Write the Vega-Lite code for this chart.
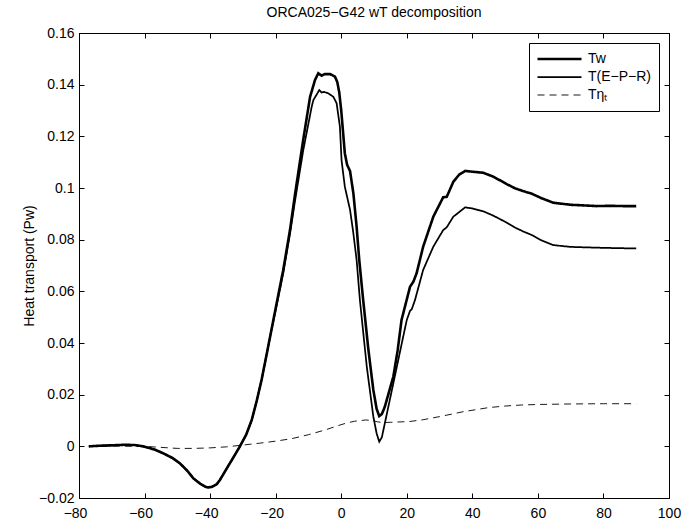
{
  "$schema": "https://vega.github.io/schema/vega-lite/v6.json",
  "width": 590,
  "height": 465,
  "autosize": {"type": "none"},
  "padding": {"left": 79, "top": 33, "right": 14, "bottom": 27},
  "background": "white",
  "title": {"text": "ORCA025−G42 wT decomposition", "font": "Liberation Sans", "fontSize": 14, "fontWeight": "normal", "color": "black", "offset": 6, "anchor": "middle"},
  "config": {
    "view": {"stroke": "black", "strokeWidth": 1},
    "axis": {"grid": false, "domainColor": "black", "domainWidth": 1, "tickColor": "black", "tickWidth": 1, "tickSize": -5, "labelFont": "Liberation Sans", "labelFontSize": 14, "labelColor": "black", "titleFont": "Liberation Sans", "titleFontSize": 14, "titleFontWeight": "normal", "titleColor": "black"},
    "legend": {"labelFont": "Liberation Sans", "labelFontSize": 14, "labelColor": "black"}
  },
  "data": {"values": [
    {"s":"Tw","x":-77,"y":0.0},{"s":"Tw","x":-74,"y":0.0002},{"s":"Tw","x":-70,"y":0.0004},{"s":"Tw","x":-66,"y":0.0006},{"s":"Tw","x":-63,"y":0.0005},{"s":"Tw","x":-60.5,"y":0.0},{"s":"Tw","x":-57,"y":-0.0012},{"s":"Tw","x":-54.3,"y":-0.0027},{"s":"Tw","x":-51.5,"y":-0.0045},{"s":"Tw","x":-49.2,"y":-0.0066},{"s":"Tw","x":-47,"y":-0.0094},{"s":"Tw","x":-45.1,"y":-0.0124},{"s":"Tw","x":-43,"y":-0.0145},{"s":"Tw","x":-41.5,"y":-0.0156},{"s":"Tw","x":-40.6,"y":-0.0159},{"s":"Tw","x":-39.5,"y":-0.0157},{"s":"Tw","x":-38,"y":-0.0147},{"s":"Tw","x":-37,"y":-0.013},{"s":"Tw","x":-35.5,"y":-0.0098},{"s":"Tw","x":-34.9,"y":-0.0085},{"s":"Tw","x":-33,"y":-0.0045},{"s":"Tw","x":-30.9,"y":0.0},{"s":"Tw","x":-29,"y":0.0045},{"s":"Tw","x":-27.3,"y":0.0102},{"s":"Tw","x":-25.8,"y":0.0175},{"s":"Tw","x":-24.3,"y":0.0257},{"s":"Tw","x":-23,"y":0.034},{"s":"Tw","x":-21.7,"y":0.0424},{"s":"Tw","x":-19.7,"y":0.0554},{"s":"Tw","x":-17.7,"y":0.0682},{"s":"Tw","x":-15.6,"y":0.084},{"s":"Tw","x":-14.1,"y":0.0975},{"s":"Tw","x":-11.6,"y":0.1186},{"s":"Tw","x":-9.5,"y":0.1353},{"s":"Tw","x":-8.0,"y":0.1418},{"s":"Tw","x":-7.0,"y":0.1444},{"s":"Tw","x":-6.0,"y":0.1435},{"s":"Tw","x":-5.0,"y":0.1441},{"s":"Tw","x":-3.4,"y":0.1441},{"s":"Tw","x":-1.9,"y":0.1431},{"s":"Tw","x":-1.2,"y":0.141},{"s":"Tw","x":-0.6,"y":0.137},{"s":"Tw","x":0.0,"y":0.130},{"s":"Tw","x":0.6,"y":0.121},{"s":"Tw","x":1.1,"y":0.1134},{"s":"Tw","x":1.8,"y":0.109},{"s":"Tw","x":2.7,"y":0.1065},{"s":"Tw","x":3.7,"y":0.098},{"s":"Tw","x":4.7,"y":0.085},{"s":"Tw","x":5.5,"y":0.0721},{"s":"Tw","x":6.7,"y":0.0566},{"s":"Tw","x":8.3,"y":0.0373},{"s":"Tw","x":9.8,"y":0.0218},{"s":"Tw","x":10.8,"y":0.0145},{"s":"Tw","x":11.6,"y":0.0117},{"s":"Tw","x":12.4,"y":0.0125},{"s":"Tw","x":13.3,"y":0.0153},{"s":"Tw","x":15.9,"y":0.027},{"s":"Tw","x":17.2,"y":0.037},{"s":"Tw","x":18.4,"y":0.0489},{"s":"Tw","x":21.0,"y":0.0618},{"s":"Tw","x":22.0,"y":0.0637},{"s":"Tw","x":23.0,"y":0.067},{"s":"Tw","x":25.0,"y":0.0773},{"s":"Tw","x":28.1,"y":0.0889},{"s":"Tw","x":31.1,"y":0.0964},{"s":"Tw","x":32.2,"y":0.0966},{"s":"Tw","x":34.2,"y":0.1024},{"s":"Tw","x":36,"y":0.1052},{"s":"Tw","x":37.8,"y":0.1066},{"s":"Tw","x":40,"y":0.1063},{"s":"Tw","x":43.3,"y":0.1059},{"s":"Tw","x":46.4,"y":0.1044},{"s":"Tw","x":50.5,"y":0.1015},{"s":"Tw","x":53,"y":0.0999},{"s":"Tw","x":55.5,"y":0.0988},{"s":"Tw","x":58.1,"y":0.0978},{"s":"Tw","x":61,"y":0.0961},{"s":"Tw","x":64.7,"y":0.0943},{"s":"Tw","x":70,"y":0.0935},{"s":"Tw","x":75,"y":0.0932},{"s":"Tw","x":77.9,"y":0.093},{"s":"Tw","x":82,"y":0.0931},{"s":"Tw","x":86,"y":0.093},{"s":"Tw","x":90,"y":0.093},

    {"s":"T(E−P−R)","x":-77,"y":0.0},{"s":"T(E−P−R)","x":-74,"y":0.0002},{"s":"T(E−P−R)","x":-70,"y":0.0004},{"s":"T(E−P−R)","x":-66,"y":0.0006},{"s":"T(E−P−R)","x":-63,"y":0.0005},{"s":"T(E−P−R)","x":-60.5,"y":0.0},{"s":"T(E−P−R)","x":-57,"y":-0.0012},{"s":"T(E−P−R)","x":-54.3,"y":-0.0027},{"s":"T(E−P−R)","x":-51.5,"y":-0.0045},{"s":"T(E−P−R)","x":-49.2,"y":-0.0066},{"s":"T(E−P−R)","x":-47,"y":-0.0094},{"s":"T(E−P−R)","x":-45.1,"y":-0.0124},{"s":"T(E−P−R)","x":-43,"y":-0.0145},{"s":"T(E−P−R)","x":-41.5,"y":-0.0156},{"s":"T(E−P−R)","x":-40.6,"y":-0.0159},{"s":"T(E−P−R)","x":-39.5,"y":-0.0157},{"s":"T(E−P−R)","x":-38,"y":-0.0147},{"s":"T(E−P−R)","x":-37,"y":-0.013},{"s":"T(E−P−R)","x":-35.5,"y":-0.0098},{"s":"T(E−P−R)","x":-34.9,"y":-0.0085},{"s":"T(E−P−R)","x":-33,"y":-0.0045},{"s":"T(E−P−R)","x":-30.9,"y":0.0},{"s":"T(E−P−R)","x":-29,"y":0.0045},{"s":"T(E−P−R)","x":-27.3,"y":0.0102},{"s":"T(E−P−R)","x":-25.8,"y":0.0175},{"s":"T(E−P−R)","x":-24.3,"y":0.0257},{"s":"T(E−P−R)","x":-23,"y":0.034},{"s":"T(E−P−R)","x":-21.7,"y":0.0424},{"s":"T(E−P−R)","x":-19.7,"y":0.0545},{"s":"T(E−P−R)","x":-17.7,"y":0.067},{"s":"T(E−P−R)","x":-15.6,"y":0.0825},{"s":"T(E−P−R)","x":-14.1,"y":0.095},{"s":"T(E−P−R)","x":-11.6,"y":0.1145},{"s":"T(E−P−R)","x":-9.0,"y":0.1315},{"s":"T(E−P−R)","x":-8.5,"y":0.134},{"s":"T(E−P−R)","x":-6.7,"y":0.1379},{"s":"T(E−P−R)","x":-6.0,"y":0.137},{"s":"T(E−P−R)","x":-5.3,"y":0.1372},{"s":"T(E−P−R)","x":-4.0,"y":0.1367},{"s":"T(E−P−R)","x":-2.4,"y":0.1353},{"s":"T(E−P−R)","x":-1.4,"y":0.1328},{"s":"T(E−P−R)","x":-0.4,"y":0.1237},{"s":"T(E−P−R)","x":0.1,"y":0.1108},{"s":"T(E−P−R)","x":1.1,"y":0.1005},{"s":"T(E−P−R)","x":2.7,"y":0.0915},{"s":"T(E−P−R)","x":3.7,"y":0.0825},{"s":"T(E−P−R)","x":4.7,"y":0.0721},{"s":"T(E−P−R)","x":5.7,"y":0.0566},{"s":"T(E−P−R)","x":7.8,"y":0.0308},{"s":"T(E−P−R)","x":9.8,"y":0.0115},{"s":"T(E−P−R)","x":10.8,"y":0.005},{"s":"T(E−P−R)","x":11.6,"y":0.0018},{"s":"T(E−P−R)","x":12.4,"y":0.0035},{"s":"T(E−P−R)","x":13.3,"y":0.0089},{"s":"T(E−P−R)","x":15.9,"y":0.0244},{"s":"T(E−P−R)","x":18.9,"y":0.0424},{"s":"T(E−P−R)","x":20.0,"y":0.0489},{"s":"T(E−P−R)","x":21.0,"y":0.0525},{"s":"T(E−P−R)","x":21.5,"y":0.053},{"s":"T(E−P−R)","x":22.5,"y":0.0566},{"s":"T(E−P−R)","x":25.0,"y":0.0683},{"s":"T(E−P−R)","x":28.1,"y":0.0773},{"s":"T(E−P−R)","x":31.1,"y":0.0837},{"s":"T(E−P−R)","x":32.2,"y":0.0848},{"s":"T(E−P−R)","x":34.2,"y":0.0889},{"s":"T(E−P−R)","x":37.8,"y":0.0925},{"s":"T(E−P−R)","x":40,"y":0.0921},{"s":"T(E−P−R)","x":43.3,"y":0.0910},{"s":"T(E−P−R)","x":46.4,"y":0.0893},{"s":"T(E−P−R)","x":50.5,"y":0.0866},{"s":"T(E−P−R)","x":53,"y":0.0847},{"s":"T(E−P−R)","x":55.5,"y":0.0832},{"s":"T(E−P−R)","x":58.1,"y":0.0818},{"s":"T(E−P−R)","x":61,"y":0.0798},{"s":"T(E−P−R)","x":64.7,"y":0.0779},{"s":"T(E−P−R)","x":70,"y":0.0772},{"s":"T(E−P−R)","x":77.9,"y":0.0769},{"s":"T(E−P−R)","x":85,"y":0.0767},{"s":"T(E−P−R)","x":90,"y":0.0766},

    {"s":"Tηₜ","x":-77,"y":0.0},{"s":"Tηₜ","x":-70,"y":0.0001},{"s":"Tηₜ","x":-60,"y":0.0},{"s":"Tηₜ","x":-55,"y":-0.0004},{"s":"Tηₜ","x":-50,"y":-0.0008},{"s":"Tηₜ","x":-45,"y":-0.0008},{"s":"Tηₜ","x":-40,"y":-0.0006},{"s":"Tηₜ","x":-35,"y":-0.0002},{"s":"Tηₜ","x":-30,"y":0.0005},{"s":"Tηₜ","x":-25,"y":0.0012},{"s":"Tηₜ","x":-20,"y":0.002},{"s":"Tηₜ","x":-15,"y":0.003},{"s":"Tηₜ","x":-10,"y":0.0045},{"s":"Tηₜ","x":-5,"y":0.0063},{"s":"Tηₜ","x":-1,"y":0.008},{"s":"Tηₜ","x":1.3,"y":0.0089},{"s":"Tηₜ","x":4,"y":0.0097},{"s":"Tηₜ","x":7.5,"y":0.0102},{"s":"Tηₜ","x":9.5,"y":0.0100},{"s":"Tηₜ","x":11,"y":0.0095},{"s":"Tηₜ","x":12.6,"y":0.0092},{"s":"Tηₜ","x":15,"y":0.0093},{"s":"Tηₜ","x":20.8,"y":0.0096},{"s":"Tηₜ","x":25,"y":0.0103},{"s":"Tηₜ","x":30,"y":0.0115},{"s":"Tηₜ","x":37.2,"y":0.0134},{"s":"Tηₜ","x":45,"y":0.015},{"s":"Tηₜ","x":50,"y":0.0156},{"s":"Tηₜ","x":55,"y":0.016},{"s":"Tηₜ","x":60,"y":0.0162},{"s":"Tηₜ","x":70,"y":0.0164},{"s":"Tηₜ","x":80,"y":0.0165},{"s":"Tηₜ","x":90,"y":0.0165}
  ]},
  "layer": [
    {
      "mark": {"type": "line", "clip": true},
      "encoding": {
        "x": {"field": "x", "type": "quantitative", "scale": {"domain": [-80, 100], "nice": false, "zero": false},
              "axis": {"orient": "bottom", "values": [-80,-60,-40,-20,0,20,40,60,80,100], "format": "d", "title": null, "labelPadding": 13, "labelOffset": {"condition": {"test": "datum.value < 0", "value": -4}, "value": 0}, "labelFlush": false}},
        "y": {"field": "y", "type": "quantitative", "scale": {"domain": [-0.02, 0.16], "nice": false, "zero": false},
              "axis": {"orient": "left", "values": [-0.02,0,0.02,0.04,0.06,0.08,0.1,0.12,0.14,0.16], "format": ".2~f", "title": "Heat transport (Pw)", "labelPadding": 10, "titlePadding": 2, "labelFlush": false}},
        "order": {"field": "x", "type": "quantitative"},
        "color": {"field": "s", "type": "nominal", "scale": {"domain": ["Tw","T(E−P−R)","Tηₜ"], "range": ["black","black","black"]},
                  "legend": {"title": null, "orient": "none", "legendX": 450, "legendY": 10, "symbolType": "stroke", "symbolSize": 1936, "clipHeight": 18, "rowPadding": 0, "labelOffset": 5, "padding": 7, "fillColor": "white", "strokeColor": "black", "symbolStrokeColor": "black"}},
        "strokeWidth": {"field": "s", "type": "nominal", "scale": {"domain": ["Tw","T(E−P−R)","Tηₜ"], "range": [2.6, 0.9, 0.9]}, "legend": {"title": null, "orient": "none", "legendX": 450, "legendY": 10, "symbolType": "stroke", "symbolSize": 1936, "clipHeight": 18, "rowPadding": 0, "labelOffset": 5, "padding": 7, "fillColor": "white", "strokeColor": "black", "symbolStrokeColor": "black"}},
        "strokeDash": {"field": "s", "type": "nominal", "scale": {"domain": ["Tw","T(E−P−R)","Tηₜ"], "range": [[1,0],[1,0],[7,5]]}, "legend": {"title": null, "orient": "none", "legendX": 450, "legendY": 10, "symbolType": "stroke", "symbolSize": 1936, "clipHeight": 18, "rowPadding": 0, "labelOffset": 5, "padding": 7, "fillColor": "white", "strokeColor": "black", "symbolStrokeColor": "black"}}
      }
    },
    {
      "mark": {"type": "line", "opacity": 0},
      "encoding": {
        "x": {"field": "x", "type": "quantitative", "axis": {"orient": "top", "values": [-80,-60,-40,-20,0,20,40,60,80,100], "labels": false, "title": null}},
        "y": {"field": "y", "type": "quantitative", "axis": {"orient": "right", "values": [-0.02,0,0.02,0.04,0.06,0.08,0.1,0.12,0.14,0.16], "labels": false, "title": null}},
        "detail": {"field": "s", "type": "nominal"}
      }
    }
  ],
  "resolve": {"axis": {"x": "independent", "y": "independent"}}
}
